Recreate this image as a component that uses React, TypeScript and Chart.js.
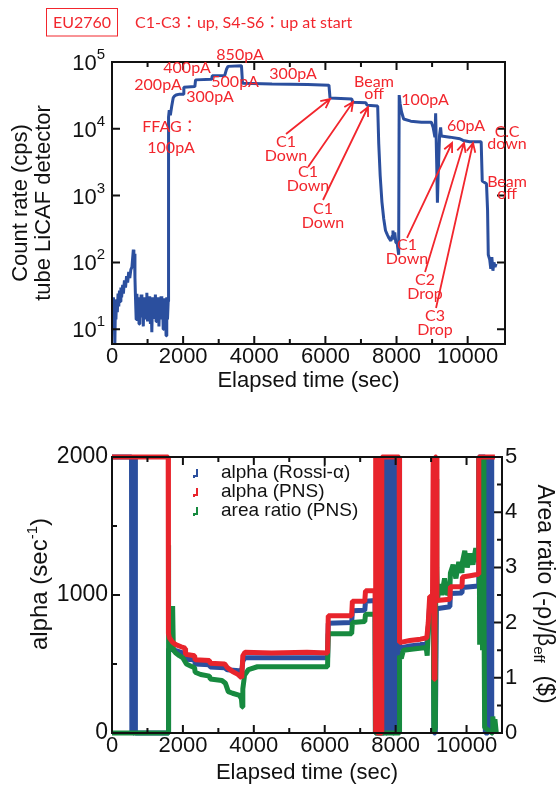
import React, { useEffect, useRef } from 'react';
import { Chart, registerables } from 'chart.js';

Chart.register(...registerables);

const SANS = '"Liberation Sans", Arial, Helvetica, sans-serif';
const NOTE = 'Lato, "Noto Sans CJK JP", sans-serif';
const BLUE = '#2b4f9e';
const RED = '#e8242c';
const GREEN = '#178a3f';
const NOTE_RED = '#f2262d';
const INK = '#111111';

// ---------- top chart: count rate ----------
const rateTime = [
  0, 20, 40, 60, 80, 95, 110, 130, 150, 170, 190, 210, 230, 250, 270, 300, 320, 350, 380, 410,
  440, 470, 500, 530, 560, 580, 600, 615, 630, 645, 660, 680, 700, 720, 740, 760, 780, 800, 820, 840,
  860, 880, 900, 920, 940, 960, 980, 1000, 1020, 1040, 1060, 1080, 1100, 1120, 1140, 1160, 1180, 1200, 1220, 1240,
  1260, 1280, 1300, 1320, 1340, 1360, 1380, 1400, 1420, 1440, 1460, 1480, 1500, 1520, 1540, 1560, 1580,
  1590, 1610, 1640, 1680, 1720, 1760, 1800, 1900, 2000, 2020, 2330, 2350, 2800, 2820, 3170, 3220, 3260, 3640, 3670,
  4500, 5500, 6100, 6130, 6740, 6770, 7140, 7170, 7470, 7500, 7540, 7590, 7640, 7690, 7740, 7790, 7840, 7880, 7900,
  7920, 7950, 7980, 8020, 8060, 8075, 8100, 8140, 8200, 8400, 8700, 8980, 9030, 9080, 9100, 9130, 9150, 9170, 9210,
  9240, 9260, 9500, 9780, 9870, 10060, 10380, 10410, 10530, 10560, 10580, 10620, 10650, 10680, 10710, 10740, 10770, 10800,
];
const rateValue = [
  25, 12, 30, 18, 6, 20, 14, 28, 18, 34, 22, 38, 26, 42, 30, 46, 34, 54, 42, 62,
  50, 72, 58, 78, 85, 115, 155, 100, 135, 60, 30, 14, 34, 16, 30, 12, 28, 15, 33, 18,
  26, 11, 30, 14, 27, 17, 35, 13, 28, 16, 31, 12, 26, 9, 30, 15, 28, 18, 33, 13,
  27, 16, 30, 11, 25, 17, 31, 14, 28, 10, 29, 15, 27, 8, 30, 14, 26,
  15000, 19000, 16000, 22000, 29000, 31000, 32000, 33000, 33000, 42000, 43000, 54000, 55000, 62000, 63000, 78000, 86000, 88000, 48000,
  47000, 46000, 45000, 29000, 28000, 25000, 24500, 22500, 22000, 6000, 2000, 800, 450, 300, 260, 230, 210, 250, 300,
  220, 280, 200, 190, 130, 32000, 24000, 18000, 14000, 13000, 12500, 12500, 10500, 7500, 17000, 3000, 780, 2000, 8000,
  10500, 7800, 7500, 7100, 6700, 6400, 6400, 1650, 1500, 600, 130, 110, 80, 120, 75, 100, 85, 95,
];
const timeMajor = [0, 2000, 4000, 6000, 8000, 10000];
const timeMinor = [1000, 3000, 5000, 7000, 9000];
const rateTicks = [10, 100, 1000, 10000, 100000];
const rateExp = [1, 2, 3, 4, 5];

// annotations (data coordinates: time, count rate)
const noteLines = [
  ['850pA'], ['400pA'], ['200pA'], ['500pA'], ['300pA'], ['300pA'], ['FFAG：'], ['100pA'],
  ['Beam', 'off'], ['100pA'], ['60pA'], ['C.C', 'down'], ['Beam', 'off'],
  ['C1', 'Down'], ['C1', 'Down'], ['C1', 'Down'], ['C1', 'Down'], ['C2', 'Drop'], ['C3', 'Drop'],
];
const noteTime = [3600, 2109, 1294, 3459, 2756, 5090, 1631, 1659, 7367, 8802, 9954, 11107, 11107, 4893, 5512, 5933, 8295, 8802, 9083];
const noteRate = [127000, 81000, 45300, 50200, 29900, 66200, 10600, 5160, 40800, 27000, 11000, 7280, 1300, 4990, 1770, 495, 143, 42.9, 12.6];
const arrowFromTime = [4893, 5512, 5933, 8295, 8802, 9111];
const arrowFromRate = [8360, 2680, 859, 232, 71.8, 20.8];
const arrowToTime = [6130, 6777, 7199, 9561, 9898, 10151];
const arrowToRate = [27900, 25200, 21200, 6130, 6130, 6130];

// ---------- bottom chart: alpha and area ratio ----------
const pnsTime = [
  0, 1585, 1592, 1620, 1700, 1800, 1950, 2060, 2075, 2330, 2345, 2750, 2770, 3180, 3250, 3400, 3550, 3660, 3690, 3750,
  4500, 5500, 6080, 6100, 6760, 6780, 7130, 7150, 7420, 7430, 7445, 7460, 7475, 7490, 7505, 7520, 7535, 7550, 7565, 7580,
  7595, 7610, 8100, 8110, 8400, 8700, 8880, 8920, 8960, 9040, 9060, 9085, 9110, 9150, 9165, 9530, 9545, 9870, 9885, 10100,
  10330, 10345, 10800,
];
const pnsAlpha = [
  2000, 2000, 720, 690, 660, 640, 625, 615, 570, 560, 530, 525, 505, 500, 475, 445, 425, 400, 560, 585,
  580, 585, 580, 850, 850, 955, 955, 1030, 1030, 2000, 0, 2000, 0, 2000, 0, 2000, 0, 2000, 0, 2000,
  0, 2000, 2000, 655, 670, 680, 690, 800, 990, 990, 2000, 390, 2000, 2000, 960, 970, 1060, 1060, 1130, 1140,
  1150, 2000, 2000,
];
const rossiTime = [
  0, 550, 560, 570, 580, 590, 600, 610, 620, 630, 640, 650, 660, 1590, 1595, 1700, 1950, 2060, 2075, 2330,
  2345, 2750, 2770, 3180, 3250, 3660, 3690, 3750, 6080, 6100, 6760, 6780, 7130, 7150, 7420, 7430, 7620, 7630, 7650, 7670,
  7690, 7710, 7730, 7750, 7770, 7790, 7810, 7830, 7850, 7870, 7890, 7910, 7930, 7950, 7970, 7990, 8010, 8030, 8050, 8070,
  8090, 8100, 8110, 8400, 8700, 8880, 8920, 8960, 9060, 9080, 9120, 9150, 9530, 9545, 9870, 9885, 10330, 10345, 10520, 10530,
  10545, 10560, 10575, 10590, 10605, 10620, 10635, 10650, 10665, 10680, 10695, 10710, 10730,
];
const rossiAlpha = [
  2000, 2000, 0, 2000, 0, 2000, 0, 2000, 0, 2000, 0, 2000, 0, 0, 610, 605, 585, 575, 535, 530,
  500, 495, 478, 472, 458, 450, 520, 545, 545, 795, 800, 885, 890, 955, 960, 0, 0, 2000, 0, 2000,
  0, 2000, 0, 2000, 0, 2000, 0, 2000, 0, 2000, 0, 2000, 0, 2000, 0, 2000, 0, 2000, 0, 2000,
  0, 2000, 615, 630, 640, 650, 760, 930, 940, 0, 0, 900, 915, 1010, 1015, 1055, 1065, 2000, 2000, 0,
  2000, 0, 2000, 0, 2000, 0, 2000, 0, 2000, 0, 2000, 0, 0,
];
const ratioTime = [
  0, 1588, 1592, 1600, 1620, 1650, 1680, 1710, 1730, 1800, 1900, 2000, 2100, 2200, 2330, 2345, 2500, 2750, 2770, 3100,
  3200, 3280, 3400, 3600, 3650, 3670, 3690, 3740, 3850, 4100, 5000, 6080, 6100, 6760, 6780, 7130, 7150, 7420, 7430, 8100,
  8110, 8160, 8220, 8500, 8860, 8890, 8920, 8970, 9060, 9080, 9120, 9140, 9160, 9180, 9230, 9300, 9380, 9450, 9530, 9545,
  9620, 9700, 9780, 9870, 9885, 9950, 10020, 10100, 10180, 10260, 10300, 10330, 10350, 10370, 10390, 10410, 10430, 10450, 10470, 10490,
  10510, 10720, 10740, 10770, 10800, 10840,
];
const ratioValue = [
  0, 0, 3.4, 2.0, 1.55, 1.95, 1.5, 2.3, 1.5, 1.45, 1.4, 1.36, 1.25, 1.22, 1.18, 1.1, 1.06, 1.03, 0.98, 0.95,
  0.9, 0.75, 0.72, 0.68, 0.62, 0.47, 0.8, 1.05, 1.15, 1.2, 1.2, 1.2, 1.8, 1.8, 2.0, 2.02, 2.15, 2.15, 0, 0,
  1.4, 1.35, 1.5, 1.52, 1.55, 1.4, 1.9, 2.2, 2.2, 0, 0.1, 4.6, 3.0, 2.4, 2.7, 2.5, 2.8, 2.5, 2.6, 2.9,
  3.05, 2.8, 3.1, 2.9, 3.1, 3.3, 3.0, 3.25, 3.05, 3.35, 3.1, 3.3, 5, 1.6, 5, 2.0, 5, 1.5, 5, 2.4,
  0.1, 0, 0.3, 0.1, 0.25, 0,
];
const alphaMajor = [0, 1000, 2000];
const alphaMinor = [500, 1500];
const ratioMajor = [0, 1, 2, 3, 4, 5];
const ratioMinor = [0.5, 1.5, 2.5, 3.5, 4.5];
const legendLabels = ['alpha (Rossi-α)', 'alpha (PNS)', 'area ratio (PNS)'];
const legendColors = [BLUE, RED, GREEN];

function pts(xs: number[], ys: number[]) {
  return xs.map((x, i) => ({ x, y: ys[i] }));
}

function drawTicksX(ctx: any, xs: any, a: any) {
  ctx.beginPath();
  for (const t of timeMajor) {
    const p = xs.getPixelForValue(t);
    ctx.moveTo(p, a.bottom); ctx.lineTo(p, a.bottom - 8);
    ctx.moveTo(p, a.top); ctx.lineTo(p, a.top + 8);
  }
  for (const t of timeMinor) {
    const p = xs.getPixelForValue(t);
    ctx.moveTo(p, a.bottom); ctx.lineTo(p, a.bottom - 5);
    ctx.moveTo(p, a.top); ctx.lineTo(p, a.top + 5);
  }
  ctx.stroke();
}

type Part = { text: string; size: number; dy: number };
function drawParts(ctx: any, parts: Part[], cx: number, cy: number, angle: number, baseOff: number) {
  ctx.save();
  ctx.translate(cx, cy);
  ctx.rotate(angle);
  let total = 0;
  const widths = parts.map((p) => {
    ctx.font = `${p.size}px ${SANS}`;
    const w = ctx.measureText(p.text).width;
    total += w;
    return w;
  });
  let x = -total / 2;
  ctx.textAlign = 'left';
  ctx.textBaseline = 'alphabetic';
  parts.forEach((p, i) => {
    ctx.font = `${p.size}px ${SANS}`;
    ctx.fillText(p.text, x, baseOff + p.dy);
    x += widths[i];
  });
  ctx.restore();
}

function arrow(ctx: any, x1: number, y1: number, x2: number, y2: number) {
  const ang = Math.atan2(y2 - y1, x2 - x1);
  const L = 10;
  const w = 0.45;
  ctx.beginPath();
  ctx.moveTo(x1, y1); ctx.lineTo(x2, y2);
  ctx.moveTo(x2 - L * Math.cos(ang - w), y2 - L * Math.sin(ang - w));
  ctx.lineTo(x2, y2);
  ctx.lineTo(x2 - L * Math.cos(ang + w), y2 - L * Math.sin(ang + w));
  ctx.stroke();
}

const topDeco = {
  id: 'topDeco',
  afterDraw(chart: any) {
    const { ctx, chartArea: a } = chart;
    const xs = chart.scales.x;
    const ys = chart.scales.y;
    ctx.save();
    ctx.strokeStyle = INK;
    ctx.lineWidth = 2;
    ctx.strokeRect(a.left, a.top, a.right - a.left, a.bottom - a.top);
    drawTicksX(ctx, xs, a);
    ctx.beginPath();
    for (const v of rateTicks) {
      const p = ys.getPixelForValue(v);
      ctx.moveTo(a.left, p); ctx.lineTo(a.left + 8, p);
      ctx.moveTo(a.right, p); ctx.lineTo(a.right - 8, p);
    }
    ctx.stroke();

    // log tick labels with superscripts
    ctx.fillStyle = INK;
    ctx.textBaseline = 'alphabetic';
    rateTicks.forEach((v, i) => {
      const p = ys.getPixelForValue(v);
      const sup = String(rateExp[i]);
      ctx.font = `15px ${SANS}`;
      const sw = ctx.measureText(sup).width;
      const xr = a.left - 7;
      ctx.textAlign = 'left';
      ctx.fillText(sup, xr - sw, p - 3);
      ctx.font = `22px ${SANS}`;
      ctx.textAlign = 'right';
      ctx.fillText('10', xr - sw, p + 8);
    });

    // axis titles
    const cy = (a.top + a.bottom) / 2;
    ctx.font = `22px ${SANS}`;
    ctx.textAlign = 'center';
    ctx.textBaseline = 'middle';
    ctx.save();
    ctx.translate(20.5, cy);
    ctx.rotate(-Math.PI / 2);
    ctx.fillText('Count rate (cps)', 0, 0);
    ctx.fillText('tube LiCAF detector', 0, 23.6);
    ctx.restore();
    ctx.fillText('Elapsed time (sec)', (a.left + a.right) / 2, 380.5);

    // header
    ctx.strokeStyle = NOTE_RED;
    ctx.lineWidth = 1;
    ctx.strokeRect(46.5, 8.5, 71, 27.5);
    ctx.fillStyle = NOTE_RED;
    ctx.font = `16px ${NOTE}`;
    ctx.textAlign = 'center';
    ctx.fillText('EU2760', 82, 22.5);
    ctx.textAlign = 'left';
    ctx.fillText('C1-C3：up, S4-S6：up at start', 135, 23);

    // annotations
    ctx.textAlign = 'center';
    noteLines.forEach((lines, i) => {
      const px = xs.getPixelForValue(noteTime[i]);
      const py = ys.getPixelForValue(noteRate[i]);
      const lh = lines[0].startsWith('C1') || lines[1] === 'Drop' ? 14 : 12.5;
      lines.forEach((s, k) => {
        ctx.fillText(s, px, py + (k - (lines.length - 1) / 2) * lh);
      });
    });
    ctx.strokeStyle = NOTE_RED;
    ctx.lineWidth = 1.8;
    arrowFromTime.forEach((t, i) => {
      arrow(
        ctx,
        xs.getPixelForValue(t), ys.getPixelForValue(arrowFromRate[i]),
        xs.getPixelForValue(arrowToTime[i]), ys.getPixelForValue(arrowToRate[i]),
      );
    });
    ctx.restore();
  },
};

const bottomDeco = {
  id: 'bottomDeco',
  afterDraw(chart: any) {
    const { ctx, chartArea: a } = chart;
    const xs = chart.scales.x;
    const yl = chart.scales.y;
    const yr = chart.scales.y1;
    ctx.save();
    ctx.strokeStyle = INK;
    ctx.lineWidth = 2;
    ctx.strokeRect(a.left, a.top, a.right - a.left, a.bottom - a.top);
    drawTicksX(ctx, xs, a);
    ctx.beginPath();
    for (const v of alphaMajor) { const p = yl.getPixelForValue(v); ctx.moveTo(a.left, p); ctx.lineTo(a.left + 8, p); }
    for (const v of alphaMinor) { const p = yl.getPixelForValue(v); ctx.moveTo(a.left, p); ctx.lineTo(a.left + 5, p); }
    for (const v of ratioMajor) { const p = yr.getPixelForValue(v); ctx.moveTo(a.right, p); ctx.lineTo(a.right - 8, p); }
    for (const v of ratioMinor) { const p = yr.getPixelForValue(v); ctx.moveTo(a.right, p); ctx.lineTo(a.right - 5, p); }
    ctx.stroke();

    // titles
    ctx.fillStyle = INK;
    ctx.font = `22px ${SANS}`;
    ctx.textAlign = 'center';
    ctx.textBaseline = 'middle';
    ctx.fillText('Elapsed time (sec)', (a.left + a.right) / 2, 372.5);
    drawParts(ctx, [
      { text: 'alpha (sec', size: 24, dy: 0 },
      { text: '-1', size: 15, dy: -10 },
      { text: ')', size: 24, dy: 0 },
    ], 39, 184, -Math.PI / 2, 8.3);
    drawParts(ctx, [
      { text: 'Area ratio (-ρ)/β', size: 23, dy: 0 },
      { text: 'eff', size: 15, dy: 4 },
      { text: '  ($)', size: 23, dy: 0 },
    ], 546, 194, Math.PI / 2, 8);

    // legend
    ctx.font = `19px ${SANS}`;
    ctx.textAlign = 'left';
    ctx.textBaseline = 'middle';
    legendLabels.forEach((lab, i) => {
      const my = 73 + i * 19;
      ctx.fillStyle = INK;
      ctx.fillText(lab, 221, my);
      ctx.strokeStyle = legendColors[i];
      ctx.lineWidth = 2;
      ctx.beginPath();
      ctx.moveTo(197, my - 4);
      ctx.lineTo(197, my + 3);
      ctx.lineTo(194, my + 3);
      ctx.lineTo(194, my + 5);
      ctx.stroke();
    });
    ctx.restore();
  },
};

const tickFont = (size: number) => ({ family: SANS, size, lineHeight: 1.2 });
const noGrid = { display: false, drawTicks: false };
const noBorder = { display: false };
const fixedTicks = (vals: number[]) => (s: any) => { s.ticks = vals.map((value) => ({ value })); };
const plainLabel = (v: any) => String(v);

function TopChart() {
  const ref = useRef<HTMLCanvasElement | null>(null);
  useEffect(() => {
    const chart = new Chart(ref.current as HTMLCanvasElement, {
      type: 'line',
      data: {
        datasets: [
          {
            data: pts(rateTime, rateValue),
            borderColor: BLUE,
            borderWidth: 3,
            pointRadius: 0,
            tension: 0,
            borderJoinStyle: 'bevel',
            clip: { left: 0, top: 2, right: 0, bottom: 0 },
          } as any,
        ],
      },
      options: {
        animation: false,
        responsive: false,
        devicePixelRatio: 1,
        events: [],
        layout: { padding: { top: 62, right: 52, left: 0, bottom: 0 } },
        plugins: { legend: { display: false }, tooltip: { enabled: false } },
        scales: {
          x: {
            type: 'linear', min: 0, max: 11050, position: 'bottom',
            grid: noGrid, border: noBorder,
            afterBuildTicks: fixedTicks(timeMajor),
            afterFit: (s: any) => { s.height = 56; },
            ticks: {
              autoSkip: false, maxRotation: 0, callback: plainLabel,
              font: tickFont(22), color: INK, padding: 0,
            },
          },
          y: {
            type: 'logarithmic', min: 6, max: 100000, position: 'left',
            grid: noGrid, border: noBorder,
            afterFit: (s: any) => { s.width = 112; },
            ticks: { display: false },
          },
        },
      } as any,
      plugins: [topDeco],
    });
    return () => chart.destroy();
  }, []);
  return <canvas ref={ref} width={557} height={400} style={{ position: 'absolute', left: 0, top: 0, width: 557, height: 400 }} />;
}

function BottomChart() {
  const ref = useRef<HTMLCanvasElement | null>(null);
  useEffect(() => {
    const common = { pointRadius: 0, tension: 0, borderWidth: 5, borderJoinStyle: 'bevel', clip: { left: 0, top: 3, right: 0, bottom: 3 } };
    const chart = new Chart(ref.current as HTMLCanvasElement, {
      type: 'line',
      data: {
        datasets: [
          { ...common, label: 'alpha (PNS)', data: pts(pnsTime, pnsAlpha), borderColor: RED, yAxisID: 'y' } as any,
          { ...common, label: 'area ratio (PNS)', data: pts(ratioTime, ratioValue), borderColor: GREEN, yAxisID: 'y1' } as any,
          { ...common, label: 'alpha (Rossi-α)', data: pts(rossiTime, rossiAlpha), borderColor: BLUE, yAxisID: 'y' } as any,
        ],
      },
      options: {
        animation: false,
        responsive: false,
        devicePixelRatio: 1,
        events: [],
        layout: { padding: { top: 57, right: 0, left: 0, bottom: 0 } },
        plugins: { legend: { display: false }, tooltip: { enabled: false } },
        scales: {
          x: {
            type: 'linear', min: 0, max: 11000, position: 'bottom',
            grid: noGrid, border: noBorder,
            afterBuildTicks: fixedTicks(timeMajor),
            afterFit: (s: any) => { s.height = 56; },
            ticks: {
              autoSkip: false, maxRotation: 0, callback: plainLabel,
              font: tickFont(22), color: INK, padding: 0,
            },
          },
          y: {
            type: 'linear', min: 0, max: 2000, position: 'left',
            grid: noGrid, border: noBorder,
            afterBuildTicks: fixedTicks(alphaMajor),
            afterFit: (s: any) => { s.width = 112; },
            ticks: { callback: plainLabel, font: tickFont(23), color: INK, padding: 4 },
          },
          y1: {
            type: 'linear', min: 0, max: 5, position: 'right',
            grid: noGrid, border: noBorder,
            afterBuildTicks: fixedTicks(ratioMajor),
            afterFit: (s: any) => { s.width = 55; },
            ticks: { callback: plainLabel, font: tickFont(22), color: INK, padding: 3 },
          },
        },
      } as any,
      plugins: [bottomDeco],
    });
    return () => chart.destroy();
  }, []);
  return <canvas ref={ref} width={557} height={389} style={{ position: 'absolute', left: 0, top: 400, width: 557, height: 389 }} />;
}

export default function App() {
  return (
    <div style={{ position: 'fixed', left: 0, top: 0, width: 557, height: 789, background: '#ffffff', overflow: 'hidden' }}>
      <TopChart />
      <BottomChart />
    </div>
  );
}
